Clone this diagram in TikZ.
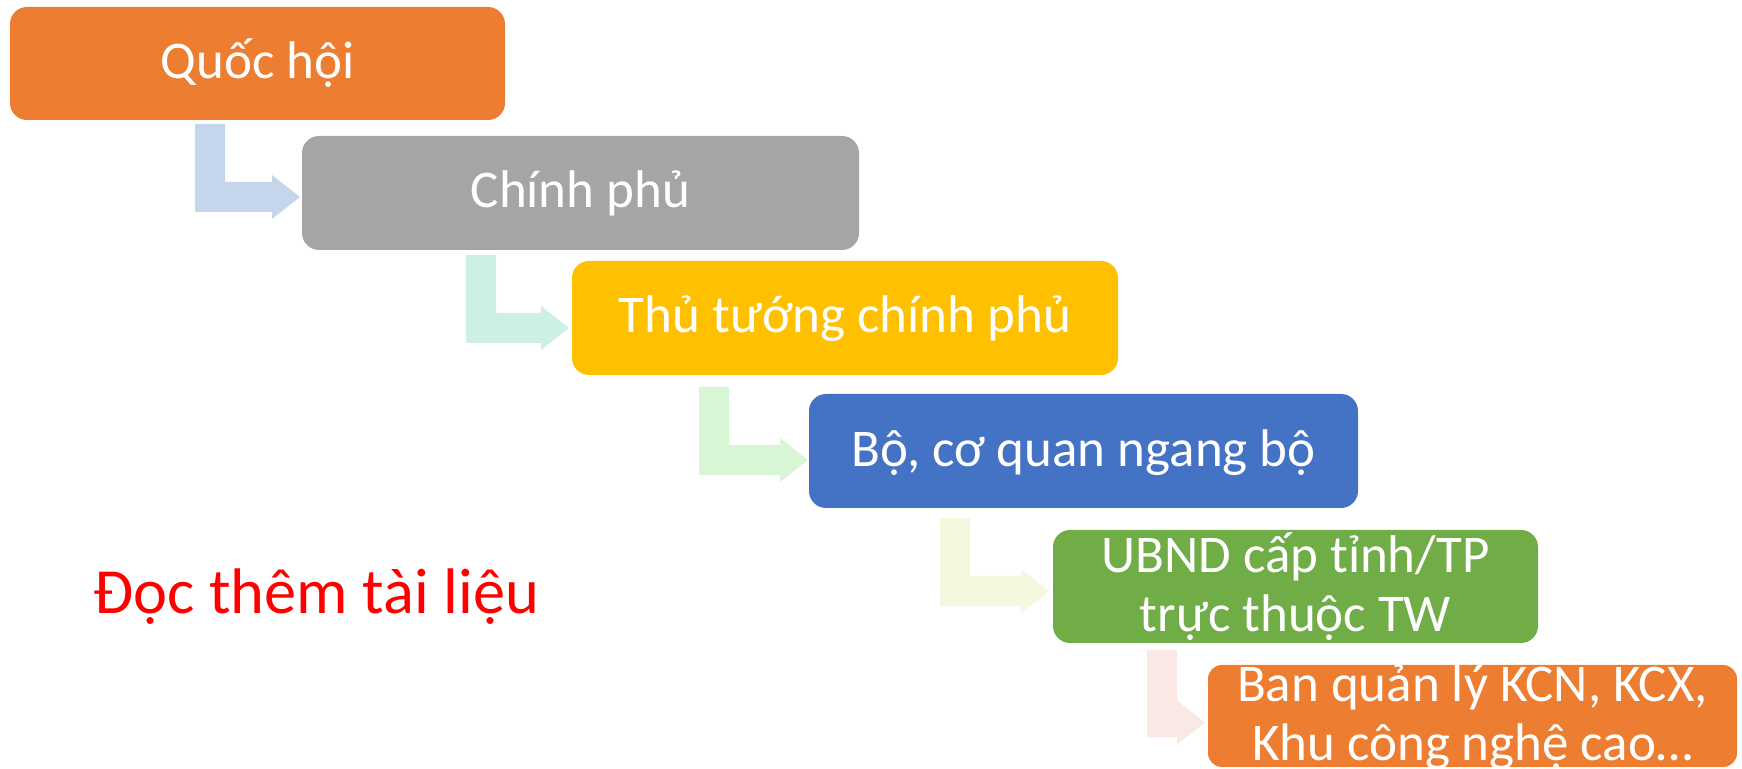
\documentclass[tikz,border=0pt]{standalone}
\usepackage{fontspec}
\setmainfont{Carlito}
\usetikzlibrary{backgrounds,calc}
\definecolor{cOrange}{HTML}{ED7D31}
\definecolor{cGray}{HTML}{A5A5A5}
\definecolor{cYellow}{HTML}{FFC000}
\definecolor{cBlue}{HTML}{4472C4}
\definecolor{cGreen}{HTML}{70AD47}
\definecolor{aBlue}{HTML}{C5D5EB}
\definecolor{aMint}{HTML}{CDEFE6}
\definecolor{aGreen}{HTML}{D8F5D5}
\definecolor{aYellow}{HTML}{F5F8DE}
\definecolor{aPink}{HTML}{FAE8E4}
% #1 from, #2 to, #3 colour, #4 bar left x, #5 top gap, #6 mid y offset, #7 tip gap
\newcommand\bentarr[7]{%
  \fill[#3] let \p1=($(#1.south)+(0,#5)$), \p2=($(#2.west)+(-#7,#6)$), \p3=(#4,0) in
    (\x3,\y1) -- (\x3+15pt,\y1) -- (\x3+15pt,\y2+7.5pt) -- (\x2-14pt,\y2+7.5pt)
    -- (\x2-14pt,\y2+11pt) -- (\x2,\y2) -- (\x2-14pt,\y2-11pt) -- (\x2-14pt,\y2-7.5pt)
    -- (\x3,\y2-7.5pt) -- cycle;}
\begin{document}
\begin{tikzpicture}[x=0.5pt,y=-0.5pt,
  box/.style={rounded corners=8.5pt, inner sep=0pt, outer sep=0pt, minimum height=57pt},
  txt/.style={anchor=base, inner sep=0pt, text=white, font=\fontsize{26.5}{29.5}\selectfont}]
\useasboundingbox (0,0) rectangle (1742,769);
\node[box, fill=cOrange, minimum width=247.5pt, minimum height=56.5pt] (b1) at (257.5,63.5) {};
\node[box, fill=cGray, minimum width=278.5pt] (b2) at (580.5,193) {};
\node[box, fill=cYellow, minimum width=273pt] (b3) at (845,318) {};
\node[box, fill=cBlue, minimum width=274.5pt] (b4) at (1083.5,451) {};
\node[box, fill=cGreen, minimum width=242.5pt, minimum height=56.5pt] (b5) at (1295.5,586.5) {};
\node[box, fill=cOrange, minimum width=264.5pt, minimum height=51pt, rounded corners=7pt] (b6) at (1472.5,716) {};
\begin{scope}[on background layer]
\bentarr{b1}{b2}{aBlue}{195}{4}{4}{2}
\bentarr{b2}{b3}{aMint}{466}{5}{10}{3}
\bentarr{b3}{b4}{aGreen}{699}{12}{9}{1}
\bentarr{b4}{b5}{aYellow}{940}{10}{4.5}{4}
\bentarr{b5}{b6}{aPink}{1147}{7}{6.5}{3}
\end{scope}
\node[txt] (t1) at (257.5,79) {Quốc hội};
\node[txt] (t2) at (580.5,208) {Chính phủ};
\node[txt] (t3) at (845,333) {Thủ tướng chính phủ};
\node[txt] (t4) at (1083.5,467) {Bộ, cơ quan ngang bộ};
\node[txt] (t5a) at (1295.5,573) {UBND cấp tỉnh/TP};
\node[txt] (t5b) at (1295.5,632) {trực thuộc TW};
\node[txt] (t6a) at (1472.5,702) {Ban quản lý KCN, KCX,};
\node[txt] (t6b) at (1472.5,761) {Khu công nghệ cao…};
\node[anchor=base west, inner sep=0pt, text=red, font=\fontsize{32.2}{37}\selectfont] (doc) at (93,614) {Đọc thêm tài liệu};
\end{tikzpicture}
\end{document}
